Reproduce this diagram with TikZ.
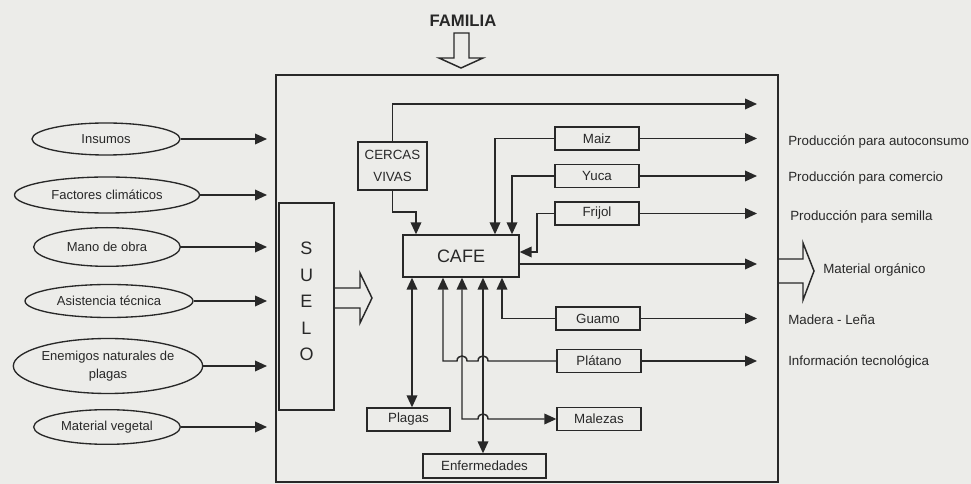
\documentclass[tikz,border=0pt]{standalone}
\usepackage{fontspec}
\setmainfont{Liberation Sans}
\usetikzlibrary{arrows.meta,shapes.geometric,calc}
\definecolor{bg}{RGB}{236,236,233}
\definecolor{ink}{RGB}{40,40,40}
\begin{document}
\begin{tikzpicture}[x=0.75pt,y=-0.75pt,
  line/.style={draw=ink, line width=1.1pt},
  arr/.style={line, -{Triangle[length=9pt,width=8pt]}},
  arrb/.style={line, {Triangle[length=9pt,width=8pt]}-{Triangle[length=9pt,width=8pt]}},
  hollow/.style={draw=ink, line width=1.1pt, line join=miter},
  ell/.style={ellipse, draw=ink, line width=1pt, inner sep=0pt, align=center,
    text=ink, font=\fontsize{9.75}{13.5}\selectfont},
  box/.style={rectangle, draw=ink, line width=1pt, inner sep=0pt,
    minimum width=63pt, minimum height=17.25pt, text=ink,
    font=\fontsize{10}{12}\selectfont},
  lbl/.style={anchor=west, inner sep=0pt, text=ink, font=\fontsize{10}{12}\selectfont}
]
\fill[bg] (0,0) rectangle (971,484);
\useasboundingbox (0,0) rectangle (971,484);

% FAMILIA
\node[font=\bfseries\fontsize{12.5}{14}\selectfont, text=ink] (fam) at (463,21) {FAMILIA};
\draw[hollow] (454,33) -- (469,33) -- (469,58) -- (483,58) -- (461,68) -- (439,58) -- (454,58) -- cycle;

% main system box
\node[draw=ink, line width=2.2pt, minimum width=376.5pt, minimum height=305.25pt, inner sep=0pt] (sys) at (527,278.5) {};

% inputs (ellipses)
\node[ell, minimum width=111pt, minimum height=24pt] (ins) at (106,139) {Insumos};
\node[ell, minimum width=138.75pt, minimum height=27pt] (fac) at (107,195) {Factores climáticos};
\node[ell, minimum width=110pt, minimum height=29pt] (man) at (107,247) {Mano de obra};
\node[ell, minimum width=126pt, minimum height=24.75pt] (asi) at (109,301) {Asistencia técnica};
\node[ell, minimum width=142pt, minimum height=41.25pt] (ene) at (108,366) {Enemigos naturales de\\plagas};
\node[ell, minimum width=110pt, minimum height=26pt] (mat) at (107,427) {Material vegetal};

\coordinate (inx) at (267,0);
\foreach \n in {ins,fac,man,asi,ene,mat}
  \draw[arr] (\n.east) -- (\n.east -| inx);

% SUELO
\node[draw=ink, line width=1.9pt, minimum width=41.25pt, minimum height=155.25pt, inner sep=0pt] (suelo) at (306.5,306.5) {};
\node[font=\fontsize{13.5}{19.9}\selectfont, align=center, text=ink, yshift=3.75pt] (suelot) at (suelo.center) {S\\U\\E\\L\\O};
\draw[hollow] (334,288) -- (360,288) -- (360,273) -- (372,298) -- (360,323) -- (360,308) -- (334,308);

% inner boxes
\node[box, minimum width=87pt, minimum height=31.5pt, font=\fontsize{13.5}{16}\selectfont] (cafe) at (461,256) {CAFE};
\node[box, minimum width=51.75pt, minimum height=36pt, align=center, font=\fontsize{10}{16}\selectfont] (cer) at (392.5,166) {CERCAS\\VIVAS};
\node[box] (maiz) at (597,138.5) {Maiz};
\node[box] (yuca) at (597,176) {Yuca};
\node[box] (fri) at (597,213.5) {Frijol};
\node[box] (gua) at (598,318.5) {Guamo};
\node[box] (pla) at (599,361) {Plátano};
\node[box] (mal) at (599,419) {Malezas};
\node[box, minimum width=62.25pt] (plg) at (408.5,419.5) {Plagas};
\node[box, minimum width=92.25pt, minimum height=18pt] (enf) at (484.5,466) {Enfermedades};

% helper coordinates
\coordinate (xr) at (757,0);
\coordinate (o0) at (757,104);
\coordinate (c1) at (416,212);
\coordinate (xm) at (495,0);
\coordinate (xy) at (512,0);
\coordinate (f1) at (537,252);
\coordinate (o5) at (757,264);
\coordinate (xg) at (502,0);
\coordinate (xp) at (443,0);
\coordinate (xl) at (462,0);
\coordinate (xe) at (483,0);
\coordinate (xq) at (412,0);

% connectors
\draw[arr] (cer.north) |- (o0);
\draw[arr] (cer.south) |- (c1) -- (cafe.north -| c1);
\draw[arr] (maiz.west) -| (cafe.north -| xm);
\draw[arr] (yuca.west) -| (cafe.north -| xy);
\draw[arr] (fri.west) -| (f1) -- (cafe.east |- f1);
\foreach \n in {maiz,yuca,fri,gua,pla}
  \draw[arr] (\n.east) -- (\n.east -| xr);
\draw[arr] (cafe.east |- o5) -- (o5);
\draw[arr] (gua.west) -| (cafe.south -| xg);
\draw[arr] (pla.west) -- (488,361) .. controls (488,354.3) and (478,354.3) .. (478,361)
  -- (467,361) .. controls (467,354.3) and (457,354.3) .. (457,361) -- (443,361) -- (cafe.south -| xp);
\draw[arrb] (cafe.south -| xl) -- (462,419) -- (478,419) .. controls (478,412.3) and (488,412.3) .. (488,419) -- (mal.west);
\draw[arrb] (cafe.south -| xe) -- (enf.north -| xe);
\draw[arrb] (cafe.south -| xq) -- (plg.north -| xq);

% Material organico hollow arrow
\draw[hollow] (778,259) -- (803,259) -- (803,243) -- (814,271) -- (803,300) -- (803,283) -- (778,283);

% output labels
\node[lbl] (l1) at (788,142) {Producción para autoconsumo};
\node[lbl] (l2) at (788,178) {Producción para comercio};
\node[lbl] (l3) at (790,217) {Producción para semilla};
\node[lbl] (l4) at (823,270) {Material orgánico};
\node[lbl] (l5) at (788,320) {Madera - Leña};
\node[lbl] (l6) at (788,362) {Información tecnológica};
\end{tikzpicture}
\end{document}
